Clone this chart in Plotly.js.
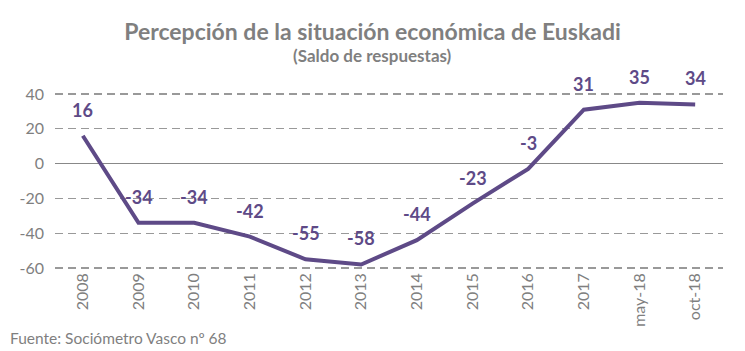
<!DOCTYPE html>
<html><head><meta charset="utf-8">
<script src="https://cdn.plot.ly/plotly-3.0.1.min.js"></script>
<style>body{margin:0;padding:0;background:#fff}#chart{width:745px;height:351px}</style>
</head><body><div id="chart"></div>
<script>
const categories = ["2008","2009","2010","2011","2012","2013","2014","2015","2016","2017","may-18","oct-18"];
const values = [16,-34,-34,-42,-55,-58,-44,-23,-3,31,35,34];
const yTicks = [-60,-40,-20,0,20,40];

const lineColor = "#5e4a87";
const gray = "#7f7f7f";
const font = "Lato, 'Open Sans', sans-serif";
const xIdx = categories.map((c, i) => i);

const trace = {
  x: xIdx, y: values, type: "scatter", mode: "lines",
  line: {color: lineColor, width: 4},
  hoverinfo: "skip", cliponaxis: false
};

const annotations = xIdx.map((xi, i) => ({
  x: xi, y: values[i], xref: "x", yref: "y",
  text: "<b>" + values[i] + "</b>", showarrow: false,
  yanchor: "middle", yshift: 26,
  font: {family: font, size: 18, color: lineColor}
}));
annotations.push({
  xref: "paper", yref: "paper", x: 0.475, y: 1, xanchor: "center", yanchor: "bottom",
  yshift: 25, text: "<b>(Saldo de respuestas)</b>", showarrow: false,
  font: {family: font, size: 17, color: gray}
});
annotations.push({
  xref: "paper", yref: "paper", x: -0.071, y: 0, xanchor: "left", yanchor: "middle",
  yshift: -69, text: "Fuente: Sociómetro Vasco nº 68", showarrow: false,
  font: {family: font, size: 15.5, color: gray}
});

const layout = {
  width: 745, height: 351,
  margin: {l: 55, r: 22, t: 93, b: 82},
  paper_bgcolor: "#fff", plot_bgcolor: "#fff",
  showlegend: false,
  title: {text: "<b>Percepción de la situación económica de Euskadi</b>",
    font: {family: font, size: 23, color: gray}, x: 0.5, xanchor: "center", y: 0.91, yanchor: "middle"},
  xaxis: {
    range: [-0.5, categories.length - 0.5],
    tickvals: xIdx, ticktext: categories,
    tickangle: -90, showgrid: false, zeroline: false, showline: false,
    ticks: "", ticklabelstandoff: 0,
    tickfont: {family: font, size: 16, color: gray}, fixedrange: true
  },
  yaxis: {
    range: [-60.6, 40.6], tickvals: yTicks, ticktext: yTicks.map(String),
    showgrid: true, gridcolor: "#999", griddash: "8px,5px", gridwidth: 1.3,
    zeroline: true, zerolinecolor: "#888", zerolinewidth: 1.5,
    showline: false, ticks: "", ticklen: 0, ticklabelstandoff: 10,
    tickfont: {family: font, size: 16, color: gray}, fixedrange: true
  },
  annotations: annotations
};

Plotly.newPlot("chart", [trace], layout, {displayModeBar: false, staticPlot: true});
</script></body></html>
